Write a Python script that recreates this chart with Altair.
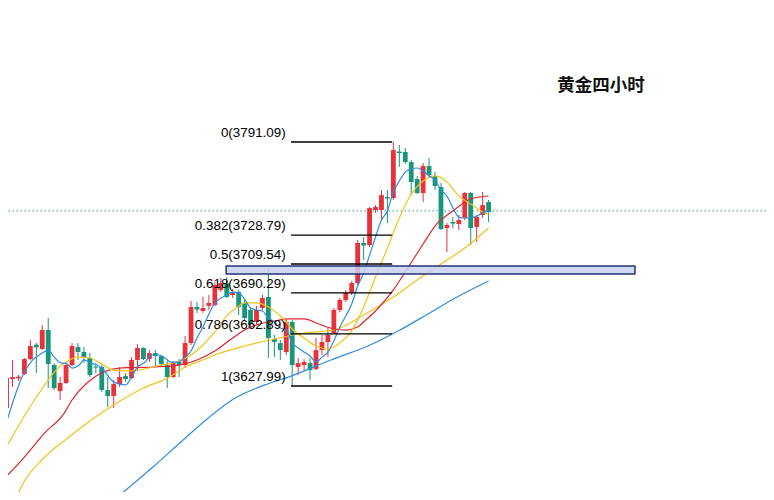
import altair as alt
import pandas as pd

# ---------------- candle data (4h gold) ----------------
opens = [3613.3, 3632.6, 3633.1, 3636.0, 3646.0, 3655.6, 3652.7, 3665.4, 3642.0, 3624.6,
         3630.0, 3642.0, 3654.0, 3650.7, 3646.7, 3641.0, 3640.7, 3625.3, 3621.3, 3629.3,
         3634.6, 3633.3, 3645.4, 3653.4, 3646.0, 3650.0, 3648.0, 3642.0, 3634.0, 3644.0,
         3642.0, 3656.7, 3680.8, 3678.1, 3681.5, 3682.1, 3692.2, 3696.8, 3688.8, 3690.8,
         3683.5, 3678.8, 3670.8, 3680.1, 3687.5, 3659.4, 3656.7, 3650.7, 3670.8, 3640.7,
         3642.0, 3643.3, 3639.3, 3652.0, 3657.4, 3663.4, 3678.8, 3685.5, 3690.2, 3696.8,
         3723.6, 3722.2, 3745.6, 3745.6, 3754.3, 3753.6, 3784.7, 3784.4, 3777.7, 3766.3,
         3757.0, 3775.0, 3768.3, 3761.0, 3733.6, 3737.6, 3736.3, 3740.3, 3757.0, 3734.3,
         3742.3, 3751.0]
closes = [3633.3, 3634.0, 3634.2, 3646.0, 3654.7, 3653.8, 3665.4, 3642.7, 3626.6, 3630.0,
          3642.0, 3654.7, 3650.7, 3646.7, 3635.3, 3640.3, 3625.3, 3621.3, 3629.3, 3634.0,
          3632.6, 3645.4, 3653.4, 3646.0, 3650.0, 3648.0, 3642.7, 3634.0, 3643.3, 3642.0,
          3656.7, 3680.8, 3679.1, 3680.1, 3683.5, 3695.5, 3696.8, 3687.5, 3690.8, 3680.8,
          3673.4, 3669.4, 3678.8, 3686.8, 3660.1, 3657.4, 3652.0, 3670.8, 3642.0, 3643.3,
          3644.0, 3638.6, 3652.0, 3657.4, 3662.1, 3678.8, 3685.5, 3690.2, 3696.8, 3723.6,
          3721.9, 3746.9, 3747.6, 3755.6, 3753.3, 3785.7, 3783.7, 3777.7, 3764.3, 3757.0,
          3775.0, 3769.0, 3761.7, 3732.9, 3735.6, 3736.6, 3738.9, 3757.0, 3733.6, 3740.9,
          3748.9, 3744.3]
highs = [3636.0, 3645.4, 3635.3, 3646.7, 3658.7, 3656.7, 3668.7, 3673.4, 3643.3, 3634.0,
         3643.3, 3656.7, 3656.7, 3654.0, 3650.0, 3643.3, 3642.0, 3634.0, 3632.0, 3640.7,
         3636.6, 3647.3, 3656.0, 3654.0, 3652.0, 3652.0, 3648.7, 3644.7, 3644.7, 3646.0,
         3661.4, 3684.8, 3684.1, 3687.5, 3688.8, 3697.5, 3700.2, 3700.8, 3692.8, 3692.2,
         3685.5, 3680.8, 3681.5, 3688.8, 3706.8, 3662.1, 3658.7, 3672.1, 3672.1, 3646.7,
         3646.0, 3646.7, 3660.1, 3662.1, 3666.7, 3680.1, 3686.8, 3692.2, 3698.2, 3725.6,
         3727.6, 3747.6, 3748.9, 3759.0, 3759.0, 3791.1, 3789.1, 3787.1, 3779.0, 3768.3,
         3777.0, 3780.4, 3771.0, 3763.7, 3736.9, 3740.9, 3742.3, 3757.7, 3757.7, 3742.3,
         3757.7, 3752.3]
lows = [3611.2, 3627.3, 3631.3, 3635.3, 3645.4, 3636.6, 3652.0, 3626.6, 3625.3, 3618.6,
        3629.3, 3641.3, 3645.4, 3643.3, 3634.0, 3636.6, 3623.9, 3613.9, 3613.3, 3627.3,
        3630.6, 3632.6, 3638.6, 3645.4, 3644.0, 3640.7, 3640.7, 3626.6, 3633.3, 3634.0,
        3640.0, 3655.4, 3676.8, 3676.8, 3678.8, 3681.5, 3690.8, 3686.8, 3686.8, 3675.4,
        3671.4, 3667.4, 3669.4, 3678.8, 3646.7, 3647.3, 3645.4, 3648.7, 3628.0, 3635.3,
        3638.6, 3632.0, 3638.6, 3648.7, 3647.3, 3662.7, 3677.4, 3684.1, 3688.8, 3695.5,
        3712.2, 3720.9, 3743.6, 3738.9, 3736.9, 3752.3, 3774.4, 3776.4, 3755.6, 3756.3,
        3751.0, 3767.7, 3759.0, 3732.2, 3717.5, 3733.6, 3732.2, 3738.9, 3722.2, 3724.2,
        3740.3, 3737.6]

# ---------------- moving averages ----------------
ma5_i = [-0.3, 2, 3, 4.4, 6, 7, 8, 9.2, 10, 11, 12.2, 13, 14.2, 15.2, 16, 18, 20, 21, 22,
         23.3, 24.3, 25.5, 26.6, 27.6, 28.8, 30, 31, 32, 33, 34, 35, 36, 37, 38, 39, 40,
         41, 42, 43, 44, 45, 46, 47, 48, 49, 50, 51, 52, 53, 54, 55, 56, 57, 58, 59, 60,
         61, 62, 63, 64, 65, 66, 67, 68, 69, 70, 71, 72, 73, 74, 75, 76, 77, 78, 79, 80, 81]
ma5_v = [3599.9, 3628.0, 3637.3, 3645.4, 3650.0, 3652.0, 3647.3, 3643.3, 3643.3, 3640.0,
         3642.0, 3645.4, 3643.3, 3642.0, 3640.0, 3630.6, 3628.7, 3634.0, 3640.7, 3644.0,
         3648.7, 3648.7, 3646.7, 3644.0, 3644.0, 3647.3, 3651.4, 3660.1, 3667.4, 3676.1,
         3683.5, 3686.8, 3688.8, 3690.8, 3690.2, 3686.1, 3680.1, 3678.8, 3678.1, 3673.4,
         3670.8, 3666.7, 3665.4, 3656.7, 3653.4, 3650.7, 3648.0, 3644.0, 3647.3, 3650.7,
         3658.1, 3667.4, 3674.8, 3682.8, 3694.8, 3703.5, 3715.5, 3727.6, 3738.9, 3745.0,
         3757.7, 3765.0, 3771.0, 3773.0, 3773.7, 3771.7, 3768.4, 3765.7, 3759.0, 3755.0,
         3747.0, 3740.9, 3740.3, 3740.3, 3741.6, 3743.6, 3745.0]

ma10_i = [-0.3, 2.6, 4.7, 7, 8, 10, 12, 14, 16, 18, 21, 23, 26, 28.5, 31, 33, 35, 37, 39,
          40, 42, 44, 46, 47, 48, 50, 52, 54, 55, 56, 58, 60, 62, 64, 66, 68, 70, 72, 74,
          76, 78, 80, 81]
ma10_v = [3585.2, 3605.3, 3618.6, 3632.0, 3637.3, 3644.0, 3647.3, 3646.7, 3642.7, 3638.6,
          3638.0, 3639.3, 3642.0, 3644.0, 3648.7, 3655.4, 3664.1, 3674.8, 3681.5, 3683.5,
          3683.5, 3680.8, 3674.8, 3670.8, 3666.1, 3660.1, 3654.7, 3652.7, 3654.0, 3656.7,
          3664.8, 3680.8, 3700.8, 3720.2, 3740.3, 3756.3, 3765.0, 3768.4, 3764.4, 3755.0,
          3749.6, 3744.3, 3742.9]

ma20_i = [-0.3, 3, 6.4, 9.7, 11, 13.5, 16.3, 19, 24.6, 29, 32, 35, 38, 40, 42.5, 45, 47.5,
          50, 52.5, 55, 57, 59, 60, 62, 65, 67, 70, 72, 75, 78, 81]
ma20_v = [3566.5, 3580.5, 3596.6, 3609.9, 3618.6, 3630.0, 3637.3, 3640.0, 3640.7, 3642.0,
          3645.4, 3651.4, 3660.1, 3665.4, 3669.4, 3671.4, 3672.8, 3672.8, 3669.4, 3666.1,
          3665.4, 3667.4, 3670.8, 3678.1, 3692.2, 3704.2, 3722.9, 3734.9, 3745.0, 3753.0,
          3755.0]

ma30_i = [-0.3, 1.4, 3.1, 5.9, 10.9, 14.7, 18, 23, 27.4, 30, 33, 35, 40, 45, 50, 55, 60,
          65, 69, 73, 77, 81]
ma30_v = [3538.4, 3551.8, 3565.1, 3578.5, 3595.2, 3606.6, 3615.3, 3626.6, 3634.0, 3640.7,
          3645.4, 3648.7, 3654.7, 3659.4, 3663.4, 3665.4, 3675.4, 3687.5, 3698.8, 3709.5,
          3720.2, 3733.6]

ma60_i = [16.3, 18.0, 24.6, 29.1, 34.1, 38.4, 43.4, 47.8, 54.5, 61.1, 66.1, 71.1, 76.0, 81.0]
ma60_v = [3546.4, 3551.8, 3573.8, 3589.9, 3607.3, 3619.9, 3628.7, 3634.6, 3645.4, 3655.4,
          3665.4, 3676.8, 3688.1, 3698.2]

# ---------------- Fibonacci retracement ----------------
fib_labels = ["0(3791.09)", "0.382(3728.79)", "0.5(3709.54)", "0.618(3690.29)",
              "0.786(3662.89)", "1(3627.99)"]
fib_prices = [3791.09, 3728.79, 3709.54, 3690.29, 3662.89, 3627.99]
fib_start, fib_end, fib_label_at = 47.8, 64.8, 46.9

zone_i = [36.9, 105.6]
zone_p = [3702.9, 3708.2]
last_price = 3745.0
title_text = "黄金四小时"

# ---------------- styling ----------------
RED = "#e8323a"
GREEN = "#17967a"
BLUE = "#2f8be3"
YELLOW = "#f3c21a"
MARED = "#e0252b"
TEAL = "#2b9e8f"

xs = alt.Scale(domain=[1.08, 126.78], nice=False, zero=False)
ys = alt.Scale(domain=[3557.13, 3880.66], nice=False, zero=False)

cdf = pd.DataFrame({"i": list(range(len(opens))), "open": opens, "close": closes,
                    "high": highs, "low": lows})
cdf["dir"] = ["up" if c >= o else "down" for o, c in zip(opens, closes)]
ccol = alt.Color("dir:N", scale=alt.Scale(domain=["up", "down"], range=[RED, GREEN]), legend=None)

X = alt.X("i:Q", scale=xs, axis=None)
wicks = alt.Chart(cdf).mark_rule(strokeWidth=1, clip=True).encode(
    x=X, y=alt.Y("low:Q", scale=ys, axis=None), y2="high:Q", color=ccol)
bodies = alt.Chart(cdf).mark_bar(size=4.8, clip=True).encode(
    x=X, y=alt.Y("open:Q", scale=ys, axis=None), y2="close:Q", color=ccol)


def ma_line(ii, vv, col):
    d = pd.DataFrame({"i": ii, "v": vv})
    return alt.Chart(d).mark_line(strokeWidth=1.2, interpolate="monotone", clip=True,
                                  color=col).encode(
        x=alt.X("i:Q", scale=xs, axis=None), y=alt.Y("v:Q", scale=ys, axis=None))


lines = [ma_line(ma60_i, ma60_v, BLUE), ma_line(ma30_i, ma30_v, YELLOW),
         ma_line(ma20_i, ma20_v, MARED), ma_line(ma10_i, ma10_v, YELLOW),
         ma_line(ma5_i, ma5_v, BLUE)]

fdf = pd.DataFrame({"p": fib_prices, "label": fib_labels,
                    "x0": [fib_start] * 6, "x1": [fib_end] * 6, "xl": [fib_label_at] * 6})
fib_lines = alt.Chart(fdf).mark_rule(color="#000000", strokeWidth=1.3).encode(
    x=alt.X("x0:Q", scale=xs, axis=None), x2="x1:Q", y=alt.Y("p:Q", scale=ys, axis=None))
fib_text = alt.Chart(fdf).mark_text(align="right", baseline="middle", dy=-9, fontSize=13.4,
                                    font="Liberation Sans", color="#000000").encode(
    x=alt.X("xl:Q", scale=xs, axis=None), y=alt.Y("p:Q", scale=ys, axis=None), text="label:N")

zdf = pd.DataFrame({"x0": [zone_i[0]], "x1": [zone_i[1]], "y0": [zone_p[0]], "y1": [zone_p[1]]})
zone = alt.Chart(zdf).mark_rect(fill="#c7d0f2", fillOpacity=0.85, stroke="#25356f",
                                strokeWidth=1.5).encode(
    x=alt.X("x0:Q", scale=xs, axis=None), x2="x1:Q",
    y=alt.Y("y0:Q", scale=ys, axis=None), y2="y1:Q")

hdf = pd.DataFrame({"p": [last_price]})
hline = alt.Chart(hdf).mark_rule(color=TEAL, strokeWidth=1, strokeDash=[1.5, 2.5]).encode(
    y=alt.Y("p:Q", scale=ys, axis=None))

tdf = pd.DataFrame({"t": [title_text]})
title = alt.Chart(tdf).mark_text(fontSize=17.5, fontWeight="bold", font="Noto Sans CJK SC",
                                 color="#111111", align="center", baseline="middle").encode(
    x=alt.value(593), y=alt.value(78), text="t:N")

chart = alt.layer(hline, wicks, bodies, *lines, fib_lines, fib_text, zone, title).properties(
    width=758, height=484, padding=0, background="white",
    autosize=alt.AutoSizeParams(type="none")
).configure_view(stroke=None)

chart.save("out.html", embed_options={"renderer": "svg", "actions": False})
